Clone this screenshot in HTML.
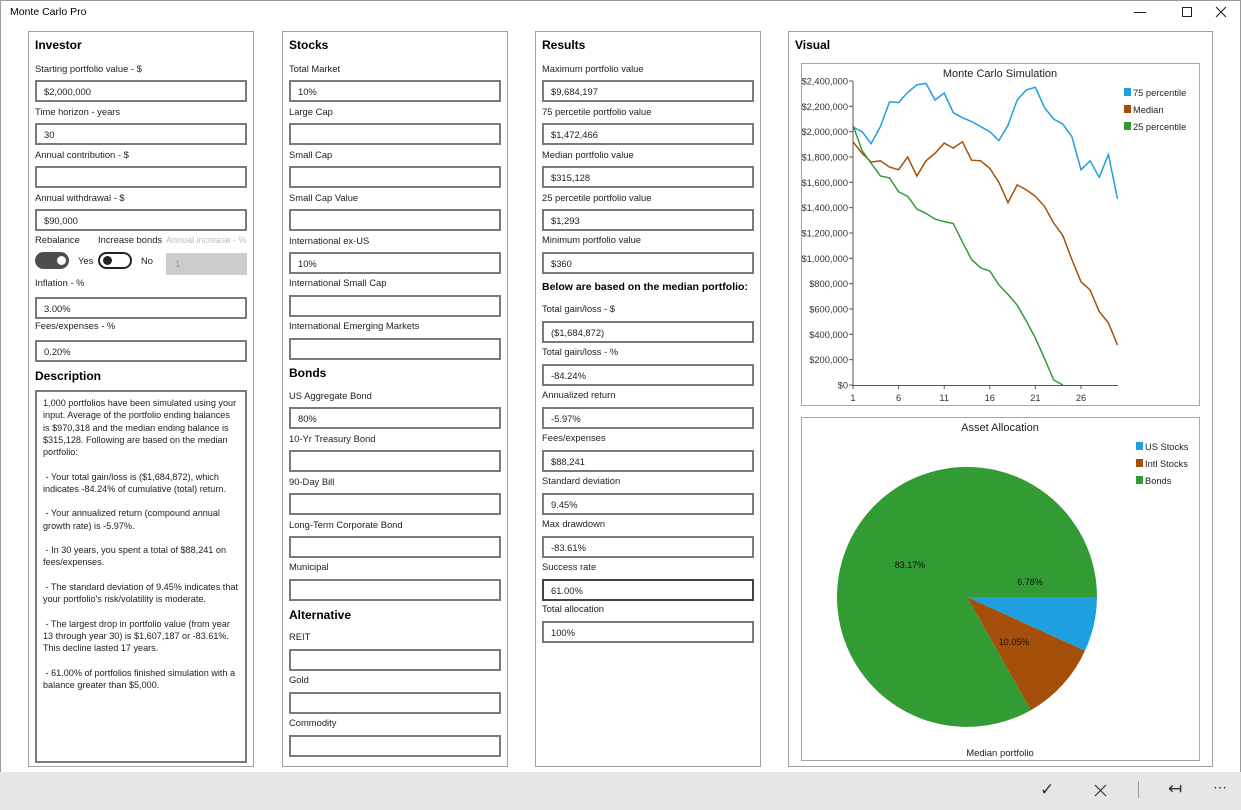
<!DOCTYPE html>
<html><head><meta charset="utf-8"><style>
*{margin:0;padding:0;box-sizing:border-box}
body{width:1241px;height:810px;position:relative;background:#fff;font-family:"Liberation Sans",sans-serif;color:#000;overflow:hidden}
.a{position:absolute;white-space:nowrap}
.panel{position:absolute;border:1px solid #a0a0a0;top:31px;height:736px}
.h{position:absolute;font-weight:bold;font-size:12px}
.l{position:absolute;font-size:9.4px;color:#222}
.i{position:absolute;height:22px;border:2px solid #7a7a7a;font-size:9.4px;padding:4px 0 0 7px;background:#fff;color:#222}
.desc{position:absolute;left:35px;top:390px;width:212px;height:373px;border:2px solid #7a7a7a;font-size:9.1px;line-height:12.25px;padding:5px 0 0 6px;white-space:pre;color:#222}
</style></head><body>
<div style="position:absolute;left:0;top:0;width:1241px;height:810px;border:1px solid #9a9a9a"></div>
<div class="a" style="left:10px;top:6px;font-size:10.5px">Monte Carlo Pro</div>
<div class="a" style="left:1134px;top:12px;width:12px;height:1px;background:#222"></div>
<div class="a" style="left:1182px;top:7px;width:10px;height:10px;border:1px solid #222"></div>
<svg class="a" style="left:1215px;top:6px" width="12" height="12"><path d="M1,1L11,11M11,1L1,11" stroke="#222" stroke-width="1.1"/></svg>

<div class="panel" style="left:28px;width:226px"></div>
<div class="panel" style="left:282px;width:226px"></div>
<div class="panel" style="left:535px;width:226px"></div>
<div class="panel" style="left:788px;width:425px"></div>

<div class="h" style="left:35px;top:38px">Investor</div>
<div class="h" style="left:35px;top:369px">Description</div>
<div class="h" style="left:289px;top:38px">Stocks</div>
<div class="h" style="left:289px;top:366px">Bonds</div>
<div class="h" style="left:289px;top:608px">Alternative</div>
<div class="h" style="left:542px;top:38px">Results</div>
<div class="h" style="left:542px;top:281px;font-size:10.5px">Below are based on the median portfolio:</div>
<div class="h" style="left:795px;top:38px">Visual</div>

<div id="f"></div>

<div class="l" style="left:35px;top:234px">Rebalance</div>
<div class="l" style="left:98px;top:234px">Increase bonds</div>
<div class="l" style="left:166px;top:235px;color:#bbb;font-size:9px">Annual increase - %</div>
<div class="a" style="left:35px;top:252px;width:34px;height:17px;border-radius:9px;background:#4d4d4d"></div>
<div class="a" style="left:57px;top:256px;width:9px;height:9px;border-radius:50%;background:#fff"></div>
<div class="l" style="left:78px;top:255px">Yes</div>
<div class="a" style="left:98px;top:252px;width:34px;height:17px;border-radius:9px;border:2px solid #222"></div>
<div class="a" style="left:103px;top:256px;width:9px;height:9px;border-radius:50%;background:#222"></div>
<div class="l" style="left:141px;top:255px">No</div>
<div class="a" style="left:166px;top:253px;width:81px;height:22px;background:#ccc;font-size:9.4px;color:#999;padding:5px 0 0 9px">1</div>

<div class="desc">1,000 portfolios have been simulated using your
input. Average of the portfolio ending balances
is $970,318 and the median ending balance is
$315,128. Following are based on the median
portfolio:

 - Your total gain/loss is ($1,684,872), which
indicates -84.24% of cumulative (total) return.

 - Your annualized return (compound annual
growth rate) is -5.97%.

 - In 30 years, you spent a total of $88,241 on
fees/expenses.

 - The standard deviation of 9.45% indicates that
your portfolio's risk/volatility is moderate.

 - The largest drop in portfolio value (from year
13 through year 30) is $1,607,187 or -83.61%.
This decline lasted 17 years.

 - 61.00% of portfolios finished simulation with a
balance greater than $5,000.</div>

<svg style="position:absolute;left:0;top:0" width="1241" height="810" font-family="Liberation Sans, sans-serif">
<rect x="801.5" y="63.5" width="398" height="342" fill="none" stroke="#a8a8a8"/>
<rect x="801.5" y="417.5" width="398" height="343" fill="none" stroke="#a8a8a8"/>
<text x="1000" y="77" font-size="11" text-anchor="middle" fill="#222">Monte Carlo Simulation</text>
<g id="ax" font-size="9.3" fill="#333" text-anchor="end"></g>
<line x1="853" y1="81" x2="853" y2="385" stroke="#555"/>
<line x1="853" y1="385.5" x2="1118" y2="385.5" stroke="#555"/>
<g id="ln" fill="none" stroke-width="1.5"></g>
<rect x="1124" y="88" width="7" height="8" fill="#1f9ee0"/><text x="1133" y="96" font-size="9.3" fill="#222">75 percentile</text>
<rect x="1124" y="105" width="7" height="8" fill="#a5500a"/><text x="1133" y="113" font-size="9.3" fill="#222">Median</text>
<rect x="1124" y="122" width="7" height="8" fill="#339b34"/><text x="1133" y="130" font-size="9.3" fill="#222">25 percentile</text>

<text x="1000" y="431" font-size="11" text-anchor="middle" fill="#222">Asset Allocation</text>
<path d="M967,597 L1097,597 A130,130 0 0 1 1085,650.7 Z" fill="#1f9ee0"/>
<path d="M967,597 L1085,650.7 A130,130 0 0 1 1030.8,710.2 Z" fill="#a5500a"/>
<path d="M967,597 L1030.8,710.2 A130,130 0 1 1 1097,597 Z" fill="#339b34"/>
<text x="1030" y="585" font-size="9" text-anchor="middle" fill="#111">6.78%</text>
<text x="1014" y="645" font-size="9" text-anchor="middle" fill="#111">10.05%</text>
<text x="910" y="568" font-size="9" text-anchor="middle" fill="#111">83.17%</text>
<rect x="1136" y="442" width="7" height="8" fill="#1f9ee0"/><text x="1145" y="450" font-size="9.3" fill="#222">US Stocks</text>
<rect x="1136" y="459" width="7" height="8" fill="#a5500a"/><text x="1145" y="467" font-size="9.3" fill="#222">Intl Stocks</text>
<rect x="1136" y="476" width="7" height="8" fill="#339b34"/><text x="1145" y="484" font-size="9.3" fill="#222">Bonds</text>
<text x="1000" y="756" font-size="9.5" text-anchor="middle" fill="#222">Median portfolio</text>
</svg>

<div class="a" style="left:0;top:772px;width:1241px;height:38px;background:#e6e6e6"></div>
<div class="a" style="left:1040px;top:780px;font-size:17px;color:#333">&#10003;</div>
<svg class="a" style="left:1094px;top:784px" width="13" height="13"><path d="M1,1L12,12M12,1L1,12" stroke="#333" stroke-width="1.2"/></svg>
<div class="a" style="left:1138px;top:781px;width:1px;height:17px;background:#999"></div>
<div class="a" style="left:1168px;top:779px;font-size:17px;color:#333">&#8612;</div>
<div class="a" style="left:1213px;top:779px;font-size:14px;color:#333">&#8943;</div>

<script>
var f=document.getElementById('f'),h='';
function L(x,y,t){h+='<div class="l" style="left:'+x+'px;top:'+(y-6)+'px">'+t+'</div>';}
function I(x,y,t,w,d){h+='<div class="i" style="left:'+x+'px;top:'+y+'px;width:'+(w||212)+'px'+(d?';border-color:#444':'')+'">'+(t||'')+'</div>';}
var inv=[[69,'Starting portfolio value - $',80,'$2,000,000'],[112,'Time horizon - years',123,'30'],[155,'Annual contribution - $',166,''],[198,'Annual withdrawal - $',209,'$90,000'],[283,'Inflation - %',297,'3.00%'],[326,'Fees/expenses - %',340,'0.20%']];
inv.forEach(function(a){L(35,a[0],a[1]);I(35,a[2],a[3]);});
var st=[[69,'Total Market',80,'10%'],[112,'Large Cap',123,''],[155,'Small Cap',166,''],[198,'Small Cap Value',209,''],[241,'International ex-US',252,'10%'],[283,'International Small Cap',295,''],[326,'International Emerging Markets',338,''],[396,'US Aggregate Bond',407,'80%'],[439,'10-Yr Treasury Bond',450,''],[482,'90-Day Bill',493,''],[525,'Long-Term Corporate Bond',536,''],[567,'Municipal',579,''],[637,'REIT',649,''],[680,'Gold',692,''],[723,'Commodity',735,'']];
st.forEach(function(a){L(289,a[0],a[1]);I(289,a[2],a[3]);});
var rs=[[69,'Maximum portfolio value',80,'$9,684,197'],[112,'75 percetile portfolio value',123,'$1,472,466'],[155,'Median portfolio value',166,'$315,128'],[198,'25 percetile portfolio value',209,'$1,293'],[240,'Minimum portfolio value',252,'$360'],[309,'Total gain/loss - $',321,'($1,684,872)'],[352,'Total gain/loss - %',364,'-84.24%'],[395,'Annualized return',407,'-5.97%'],[438,'Fees/expenses',450,'$88,241'],[481,'Standard deviation',493,'9.45%'],[524,'Max drawdown',536,'-83.61%'],[567,'Success rate',579,'61.00%',1],[609,'Total allocation',621,'100%']];
rs.forEach(function(a){L(542,a[0],a[1]);I(542,a[2],a[3],212,a[4]);});
f.innerHTML=h;
var ax='';
for(var k=0;k<=12;k++){var y=385-k*25.333;var v=k*200000;var s=v==0?'$0':'$'+v.toLocaleString('en-US');
ax+='<text x="848" y="'+(y+3.5)+'">'+s+'</text><line x1="849" x2="853" y1="'+y+'" y2="'+y+'" stroke="#555"/>';}
[1,6,11,16,21,26].forEach(function(t){var x=853+(t-1)*9.12;ax+='<text x="'+x+'" y="401" text-anchor="middle">'+t+'</text><line x1="'+x+'" x2="'+x+'" y1="385" y2="389" stroke="#555"/>';});
document.getElementById('ax').innerHTML=ax;
var b=[2.037,2.0,1.906,2.04,2.235,2.23,2.31,2.37,2.38,2.25,2.305,2.15,2.11,2.08,2.04,2.0,1.93,2.05,2.25,2.33,2.35,2.19,2.1,2.06,1.96,1.7,1.77,1.64,1.82,1.47];
var m=[1.92,1.83,1.76,1.77,1.72,1.7,1.8,1.65,1.77,1.83,1.91,1.87,1.92,1.775,1.77,1.71,1.6,1.44,1.58,1.54,1.49,1.41,1.28,1.18,0.99,0.815,0.75,0.58,0.49,0.315];
var g=[2.05,1.85,1.75,1.65,1.635,1.525,1.49,1.39,1.355,1.31,1.29,1.275,1.13,0.99,0.925,0.9,0.79,0.715,0.63,0.505,0.37,0.21,0.04,0];
function P(a,c){return '<polyline stroke="'+c+'" points="'+a.map(function(v,i){return (853+i*9.12).toFixed(1)+','+(385-v*126.67).toFixed(1)}).join(' ')+'"/>';}
document.getElementById('ln').innerHTML=P(b,'#1f9ee0')+P(m,'#a5500a')+P(g,'#339b34');
</script>
</body></html>
